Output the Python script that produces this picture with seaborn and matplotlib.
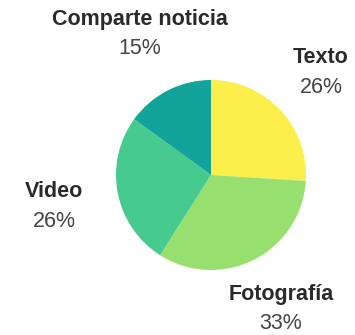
import matplotlib
matplotlib.use("Agg")
import matplotlib.pyplot as plt
import seaborn as sns

categories = ["Texto", "Fotografía", "Video", "Comparte noticia"]
values = [26, 33, 26, 15]
colors = ["#fcef4c", "#97e06f", "#47ca8d", "#12a49a"]

# baseline anchor points (x, name baseline, percentage baseline), measured from the top
label_pos = [(321, 63, 93), (281, 300, 329), (54, 197, 227), (140, 25, 54)]

sns.set_theme(style="white")
plt.rcParams["font.family"] = ["Liberation Sans", "DejaVu Sans"]

W, H = 355, 335
fig = plt.figure(figsize=(W / 100, H / 100), dpi=100)
ax = fig.add_axes([0, 0, 1, 1])

ax.pie(values, colors=colors, startangle=90, counterclock=False,
       center=(211, H - 175), radius=95, frame=True,
       wedgeprops=dict(linewidth=0))
ax.set_xlim(0, W)
ax.set_ylim(0, H)
ax.set_aspect("equal")
ax.axis("off")

for name, val, (x, yn, yp) in zip(categories, values, label_pos):
    ax.text(x, H - yn, name, ha="center", va="baseline", fontsize=15.5,
            fontweight="bold", color="#2a2a2a")
    ax.text(x, H - yp, f"{val}%", ha="center", va="baseline", fontsize=15.5,
            color="#444444")

fig.savefig("out.png", dpi=100, facecolor="white")
